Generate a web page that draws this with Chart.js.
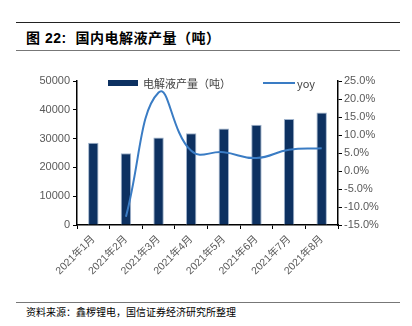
<!DOCTYPE html>
<html>
<head>
<meta charset="utf-8">
<script src="https://cdn.jsdelivr.net/npm/chart.js@4.4.1/dist/chart.umd.min.js"></script>
<style>
  body { margin: 0; background: #fff; width: 412px; height: 326px; position: relative; overflow: hidden;
         font-family: "Liberation Sans", Arial, sans-serif; }
  .rule { position: absolute; left: 16px; width: 384px; }
  #title { position: absolute; left: 26px; top: 27px; font-size: 14px; font-weight: bold; color: #000;
           font-family: "Liberation Sans", "Noto Sans CJK SC", sans-serif; letter-spacing: 0.5px; }
  #source { position: absolute; left: 26px; top: 304px; font-size: 10px; color: #000;
            font-family: "Noto Sans CJK SC", sans-serif; }
  #chartBox { position: absolute; left: 0; top: 55px; width: 412px; height: 245px; }
  .legend { position: absolute; top: 75px; font-size: 11px; color: #404040; font-family: "Noto Sans CJK SC", serif;
            display: flex; align-items: center; }
</style>
</head>
<body>
<div class="rule" style="top:22px;border-top:1px solid #222;"></div>
<div id="title">图 22:&nbsp; 国内电解液产量（吨）</div>
<div class="rule" style="top:50px;border-top:1px solid #777;"></div>

<div id="chartBox"><canvas id="dataChart" width="412" height="245"></canvas></div>

<div class="legend" style="left:108px;"><span style="display:inline-block;width:30px;height:6px;background:#0d3161;margin-right:5px;"></span>电解液产量（吨）</div>
<div class="legend" style="left:263px;"><span style="display:inline-block;width:32px;height:2px;background:#3a7cc4;margin-right:2px;"></span>yoy</div>

<div class="rule" style="top:302px;border-top:1px solid #777;"></div>
<div id="source">资料来源：鑫椤锂电，国信证券经济研究所整理</div>

<script>
// Data
const months = ["2021年1月", "2021年2月", "2021年3月", "2021年4月", "2021年5月", "2021年6月", "2021年7月", "2021年8月"];
const output = [28600, 24900, 30400, 31900, 33500, 34800, 36800, 39100];  // 吨
const yoy = [null, -12.7, 21.8, 5.6, 5.2, 3.6, 5.9, 6.3];                 // %

const leftTicks = [0, 10000, 20000, 30000, 40000, 50000];
const rightTicks = [-15, -10, -5, 0, 5, 10, 15, 20, 25];

const tickColor = "#595959";
const axisColor = "#000";

const ctx = document.getElementById("dataChart").getContext("2d");
new Chart(ctx, {
    data: {
        labels: months,
        datasets: [
            {
                type: "line",
                label: "yoy",
                data: yoy,
                yAxisID: "y1",
                borderColor: "#3a7cc4",
                borderWidth: 2,
                pointRadius: 0,
                tension: 0.45,
                fill: false,
                spanGaps: false,
                order: 0
            },
            {
                type: "bar",
                label: "电解液产量（吨）",
                data: output,
                yAxisID: "y",
                backgroundColor: "#0d3161",
                borderColor: "#9fb3cc",
                borderWidth: { left: 1, right: 1, top: 1, bottom: 0 },
                categoryPercentage: 1,
                barPercentage: 0.32,
                order: 1
            }
        ]
    },
    options: {
        responsive: false,
        animation: false,
        layout: { padding: { left: 0, right: 0, top: 26, bottom: 0 } },
        plugins: { legend: { display: false }, tooltip: { enabled: false } },
        scales: {
            x: {
                grid: { display: true, drawOnChartArea: false, offset: true, tickLength: 4, color: axisColor },
                border: { color: axisColor, width: 1.5 },
                ticks: {
                    color: tickColor,
                    font: { size: 10.5, family: "'Liberation Sans', 'Noto Sans CJK SC', sans-serif" },
                    maxRotation: 45, minRotation: 45, autoSkip: false, padding: 4
                },
                afterFit: s => { s.height = 75; }
            },
            y: {
                position: "left",
                min: 0, max: 50000,
                afterBuildTicks: s => { s.ticks = leftTicks.map(v => ({ value: v })); },
                grid: { drawOnChartArea: false, tickLength: 4, color: axisColor },
                border: { color: axisColor, width: 1.5 },
                ticks: {
                    color: tickColor, font: { size: 11, family: "'Liberation Sans', Arial, sans-serif" }, padding: 3,
                    callback: v => String(v)
                },
                afterFit: s => { s.width = 77; }
            },
            y1: {
                position: "right",
                min: -15, max: 25,
                afterBuildTicks: s => { s.ticks = rightTicks.map(v => ({ value: v })); },
                grid: { drawOnChartArea: false, tickLength: 4, color: axisColor },
                border: { color: axisColor, width: 1.5 },
                ticks: {
                    color: tickColor, font: { size: 11, family: "'Liberation Sans', Arial, sans-serif" }, padding: 2,
                    callback: v => v.toFixed(1) + "%"
                },
                afterFit: s => { s.width = 74; }
            }
        }
    }
});
</script>
</body>
</html>
